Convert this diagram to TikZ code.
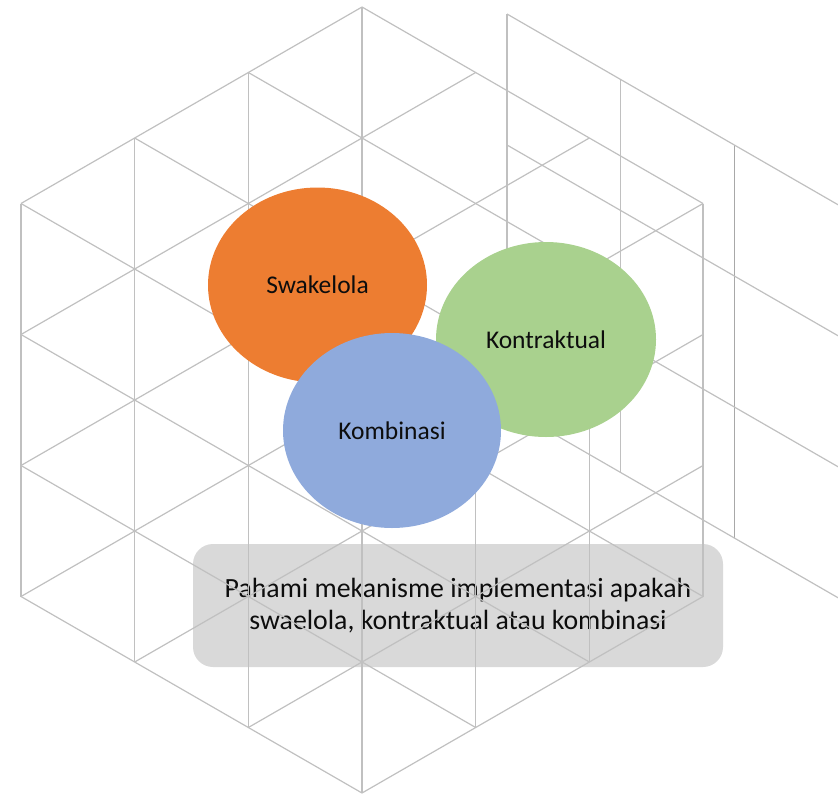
\documentclass[tikz,border=0pt]{standalone}
\usepackage{fontspec}
\setmainfont{Carlito}
\usetikzlibrary{shapes.geometric}
\definecolor{gridc}{RGB}{192,192,192}
\definecolor{gridd}{RGB}{168,168,168}
\definecolor{orangec}{RGB}{237,125,49}
\definecolor{greenc}{RGB}{169,209,142}
\definecolor{bluec}{RGB}{143,170,220}
\definecolor{boxc}{RGB}{217,217,217}
\definecolor{textc}{RGB}{13,13,13}
\begin{document}
\begin{tikzpicture}[x=1pt,y=-1pt,
  gridline/.style={draw=gridc, line width=1.2pt},
  bubble/.style={ellipse, inner sep=0pt, minimum width=219pt, minimum height=195pt,
    text=textc, font=\fontsize{25.5}{30}\selectfont},
  infobox/.style={rectangle, rounded corners=20pt, fill=boxc, inner sep=0pt,
    minimum width=530pt, minimum height=123pt, align=center, text=textc,
    font=\fontsize{27.8}{31.5}\selectfont}]
\useasboundingbox (0,0) rectangle (838,793);
\clip (0,0) rectangle (838,793);

% info box (below the grid lines)
\node[infobox] (info) at (458,605.5) {Pahami mekanisme implementasi apakah\\swaelola, kontraktual atau kombinasi};

% main isometric lattice
\begin{scope}[shift={(21pt,-7pt)}, x=113.67pt, y=-65.5pt]
  % verticals
  \draw[gridline] (0,3) -- (0,9);
  \draw[gridline] (1,2) -- (1,10);
  \draw[gridline] (2,1) -- (2,11);
  \draw[gridline] (3,0) -- (3,12);
  \draw[gridline] (4,5) -- (4,11);
  \draw[gridline] (5,4) -- (5,10);
  \draw[gridline] (6,3) -- (6,9);
  % down-right lines
  \draw[gridline] (0,3) -- (6,9);
  \draw[gridline] (1,2) -- (4,5);
  \draw[gridline] (2,1) -- (5,4);
  \draw[gridline] (3,0) -- (6,3);
  \draw[gridline] (0,5) -- (5,10);
  \draw[gridline] (0,7) -- (4,11);
  \draw[gridline] (0,9) -- (3,12);
  % up-right lines
  \draw[gridline] (0,3) -- (3,0);
  \draw[gridline] (0,5) -- (4,1);
  \draw[gridline] (0,7) -- (5,2);
  \draw[gridline] (0,9) -- (6,3);
  \draw[gridline] (1,10) -- (6,5);
  \draw[gridline] (2,11) -- (6,7);
  \draw[gridline] (3,12) -- (6,9);
\end{scope}

% shifted face on the right
\begin{scope}[shift={(507pt,-14pt)}, x=113.67pt, y=-65.5pt]
  \draw[gridline] (0,0) -- (0,6);
  \draw[gridline] (1,1) -- (1,7);
  \draw[gridline, draw=gridd, line width=1.6pt] (2,2) -- (2,8);
  \draw[gridline] (0,0) -- (3,3);
  \draw[gridline] (0,2) -- (3,5);
  \draw[gridline] (0,4) -- (3,7);
  \draw[gridline] (0,6) -- (3,9);
\end{scope}

% bubbles
\node[bubble, fill=orangec] (swa) at (317.5,285) {Swakelola};
\node[bubble, fill=greenc, minimum width=220pt] (kon) at (546,339.5) {Kontraktual};
\node[bubble, fill=bluec, minimum width=218pt] (kom) at (392,430.5) {Kombinasi};
\end{tikzpicture}
\end{document}
